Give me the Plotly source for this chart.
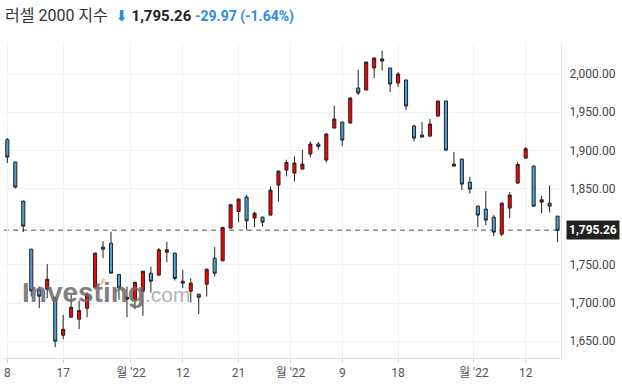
import plotly.graph_objects as go

# ---- data (Russell 2000, daily, Jun 8 - Sep 16 2022) ----
dates = [
    "2022-06-08", "2022-06-09", "2022-06-10", "2022-06-13", "2022-06-14", "2022-06-15", "2022-06-16", "2022-06-17",
    "2022-06-21", "2022-06-22", "2022-06-23", "2022-06-24", "2022-06-27", "2022-06-28", "2022-06-29", "2022-06-30",
    "2022-07-01", "2022-07-05", "2022-07-06", "2022-07-07", "2022-07-08", "2022-07-11", "2022-07-12", "2022-07-13",
    "2022-07-14", "2022-07-15", "2022-07-18", "2022-07-19", "2022-07-20", "2022-07-21", "2022-07-22", "2022-07-25",
    "2022-07-26", "2022-07-27", "2022-07-28", "2022-07-29",
    "2022-08-01", "2022-08-02", "2022-08-03", "2022-08-04", "2022-08-05", "2022-08-08", "2022-08-09", "2022-08-10",
    "2022-08-11", "2022-08-12", "2022-08-15", "2022-08-16", "2022-08-17", "2022-08-18", "2022-08-19", "2022-08-22",
    "2022-08-23", "2022-08-24", "2022-08-25", "2022-08-26", "2022-08-29", "2022-08-30", "2022-08-31",
    "2022-09-01", "2022-09-02", "2022-09-06", "2022-09-07", "2022-09-08", "2022-09-09", "2022-09-12", "2022-09-13",
    "2022-09-14", "2022-09-15", "2022-09-16",
]
opens = [1913.9, 1884.7, 1833.6, 1770.6, 1716.9, 1718.2, 1707.7, 1657.9,
         1681.5, 1678.9, 1693.3, 1720.8, 1773.3, 1778.5, 1737.4, 1705.1,
         1705.1, 1715.6, 1739.2, 1736.6, 1766.7, 1765.4, 1728.7, 1715.6,
         1711.7, 1724.8, 1758.8, 1755.4, 1798.2, 1820.0, 1838.8, 1811.3,
         1812.6, 1815.2, 1854.5, 1874.2,
         1870.2, 1875.5, 1895.2, 1908.3, 1887.3, 1929.2, 1937.1, 1935.8,
         1981.7, 1979.0, 2007.9, 2017.0, 2007.9, 1988.2, 1992.1, 1931.8,
         1920.1, 1918.7, 1945.0, 1964.6, 1879.4, 1888.6, 1858.5,
         1827.0, 1823.1, 1812.6, 1790.3, 1824.4, 1857.1, 1889.9, 1879.4,
         1832.2, 1830.9, 1813.9]
highs = [1916.1, 1885.0, 1834.0, 1771.0, 1721.7, 1751.0, 1708.0, 1684.6,
         1710.8, 1703.4, 1713.9, 1766.0, 1781.1, 1793.4, 1738.0, 1721.7,
         1728.3, 1742.0, 1747.9, 1772.0, 1780.3, 1766.0, 1743.6, 1732.6,
         1712.0, 1745.0, 1773.3, 1800.0, 1830.0, 1836.5, 1841.9, 1819.6,
         1813.0, 1852.8, 1873.0, 1887.7,
         1892.1, 1900.8, 1911.7, 1910.9, 1922.7, 1958.5, 1937.5, 1969.9,
         2005.7, 2016.0, 2021.3, 2030.6, 2008.0, 2002.6, 1992.5, 1933.6,
         1937.1, 1941.0, 1965.0, 1965.0, 1897.8, 1889.0, 1865.4,
         1827.5, 1846.7, 1815.2, 1831.8, 1845.3, 1884.7, 1904.3, 1880.0,
         1840.5, 1854.1, 1814.0]
lows = [1883.4, 1850.2, 1792.9, 1708.6, 1693.3, 1706.4, 1642.2, 1652.7,
        1681.0, 1665.8, 1681.5, 1720.0, 1758.8, 1739.0, 1704.2, 1681.5,
        1692.0, 1683.3, 1713.8, 1736.0, 1753.6, 1729.6, 1719.5, 1700.7,
        1685.5, 1708.6, 1734.8, 1755.0, 1798.0, 1806.0, 1796.0, 1799.5,
        1800.4, 1815.0, 1833.1, 1865.9,
        1859.3, 1875.0, 1890.8, 1900.8, 1884.0, 1929.0, 1905.2, 1935.0,
        1972.5, 1979.0, 1994.8, 2004.4, 1976.4, 1983.0, 1952.8, 1911.8,
        1917.0, 1917.4, 1943.6, 1899.1, 1879.0, 1848.0, 1843.6,
        1799.5, 1802.1, 1787.7, 1787.7, 1811.3, 1857.0, 1889.0, 1825.7,
        1817.8, 1818.7, 1779.8]
closes = [1891.2, 1851.9, 1800.8, 1716.0, 1709.0, 1731.3, 1650.1, 1665.8,
          1694.6, 1690.3, 1711.7, 1765.4, 1770.6, 1739.2, 1720.0, 1707.7,
          1727.0, 1741.8, 1728.7, 1769.8, 1769.8, 1732.2, 1726.1, 1726.1,
          1707.7, 1744.4, 1739.2, 1799.0, 1828.7, 1836.2, 1807.8, 1817.8,
          1806.0, 1848.0, 1872.9, 1884.2,
          1883.4, 1882.0, 1908.3, 1905.2, 1921.4, 1941.0, 1913.5, 1968.5,
          1975.1, 2015.7, 2021.0, 2019.7, 1986.9, 2000.0, 1958.1, 1916.1,
          1917.4, 1934.5, 1964.6, 1900.4, 1882.0, 1855.8, 1849.3,
          1815.2, 1808.7, 1792.9, 1830.9, 1841.4, 1881.6, 1902.1, 1827.0,
          1835.3, 1827.0, 1795.26]

day_ticks = {"2022-06-08": "8", "2022-06-17": "17", "2022-07-12": "12", "2022-07-21": "21",
             "2022-08-09": "9", "2022-08-18": "18", "2022-09-12": "12"}
month_starts = {"2022-07-01": "월 '22", "2022-08-01": "월 '22", "2022-09-01": "월 '22"}

title_name = "러셀 2000 지수"
last_price = "1,795.26"
change_text = "-29.97 (-1.64%)"

# ---- build ----
xs = list(range(len(dates)))
tickvals, ticktext = [], []
for d, lab in day_ticks.items():
    tickvals.append(dates.index(d))
    ticktext.append(lab)
for d, lab in month_starts.items():
    tickvals.append(dates.index(d) - 0.5)
    ticktext.append(lab)
order = sorted(range(len(tickvals)), key=lambda i: tickvals[i])
tickvals = [tickvals[i] for i in order]
ticktext = [ticktext[i] for i in order]

UP = "#ff0000"
DOWN = "#4a9fdc"
OUTLINE = "#222222"
BLUE_TXT = "#2b8de0"

fig = go.Figure()
fig.add_trace(go.Candlestick(
    x=xs, open=opens, high=highs, low=lows, close=closes,
    increasing=dict(fillcolor=UP, line=dict(color=OUTLINE, width=1)),
    decreasing=dict(fillcolor=DOWN, line=dict(color=OUTLINE, width=1)),
    whiskerwidth=0, showlegend=False,
))

fig.add_shape(type="line", xref="paper", x0=0, x1=1, yref="y", y0=closes[-1], y1=closes[-1],
              line=dict(color="#8c8c8c", width=1.5, dash="5px,4px"), layer="below")

fig.update_layout(
    width=622, height=386,
    margin=dict(l=4, r=61, t=43, b=28),
    paper_bgcolor="white", plot_bgcolor="white",
    boxgap=0.45,
    font=dict(family="Roboto, 'Noto Sans CJK KR', sans-serif", size=12, color="#444"),
    xaxis=dict(
        range=[-0.42, 69.43], tickmode="array", tickvals=tickvals, ticktext=ticktext,
        showgrid=True, gridcolor="#f2f2f2", gridwidth=1,
        showline=True, linecolor="#dfe1e6", linewidth=1,
        ticks="outside", ticklen=4, tickcolor="#d0d0d0",
        tickfont=dict(size=12, color="#555"),
        rangeslider=dict(visible=False), zeroline=False, fixedrange=True,
    ),
    yaxis=dict(
        side="right", range=[1628.1, 2040.6], tick0=1650, dtick=50, tickformat=",.2f",
        showgrid=True, gridcolor="#f2f2f2", gridwidth=1,
        showline=True, linecolor="#dfe1e6", linewidth=1,
        ticks="", ticklabelstandoff=5,
        tickfont=dict(size=12, color="#444"), zeroline=False,
    ),
)

# watermark (Investing.com logo)
fig.add_annotation(
    xref="paper", yref="paper", x=0.0287, y=0.2095, xanchor="left", yanchor="middle",
    text="<b>Investing</b><span style='color:rgba(140,140,140,0.8);font-size:21px'>.com</span>",
    showarrow=False,
    font=dict(family="Liberation Sans, Arial, sans-serif", size=28, color="rgba(105,105,105,0.85)"),
)
fig.add_shape(type="path", xref="paper", yref="paper", layer="above",
              path="M 0.1706,0.2317 L 0.1760,0.2317 L 0.1832,0.2508 L 0.1778,0.2540 Z",
              fillcolor="rgba(247,185,95,0.8)", line=dict(width=0))

# title
fig.add_annotation(
    xref="paper", yref="paper", x=0, y=1, xanchor="left", yanchor="middle",
    xshift=-1, yshift=27.5, showarrow=False,
    text=(f"<span style='color:#333;font-size:16px'>{title_name}</span>  "
          f"<span style='color:{BLUE_TXT};font-family:DejaVu Sans'>⬇</span> "
          f"<b><span style='color:#222'>{last_price}</span></b> "
          f"<span style='color:{BLUE_TXT};font-size:14px'><b>{change_text}</b></span>"),
    font=dict(family="Roboto, 'Noto Sans CJK KR', sans-serif", size=15, color="#333"),
)

# last price label
fig.add_annotation(
    xref="paper", yref="y", x=1, y=closes[-1], xanchor="left", yanchor="middle",
    xshift=5, showarrow=False, text=f"<b>{closes[-1]:,.2f}</b>",
    bgcolor="#222222", borderpad=2,
    font=dict(family="Roboto, sans-serif", size=12, color="white"),
)

fig.write_html("out.html", config={"displayModeBar": False},
               post_script="document.body.style.margin='0';document.body.style.padding='0';")
